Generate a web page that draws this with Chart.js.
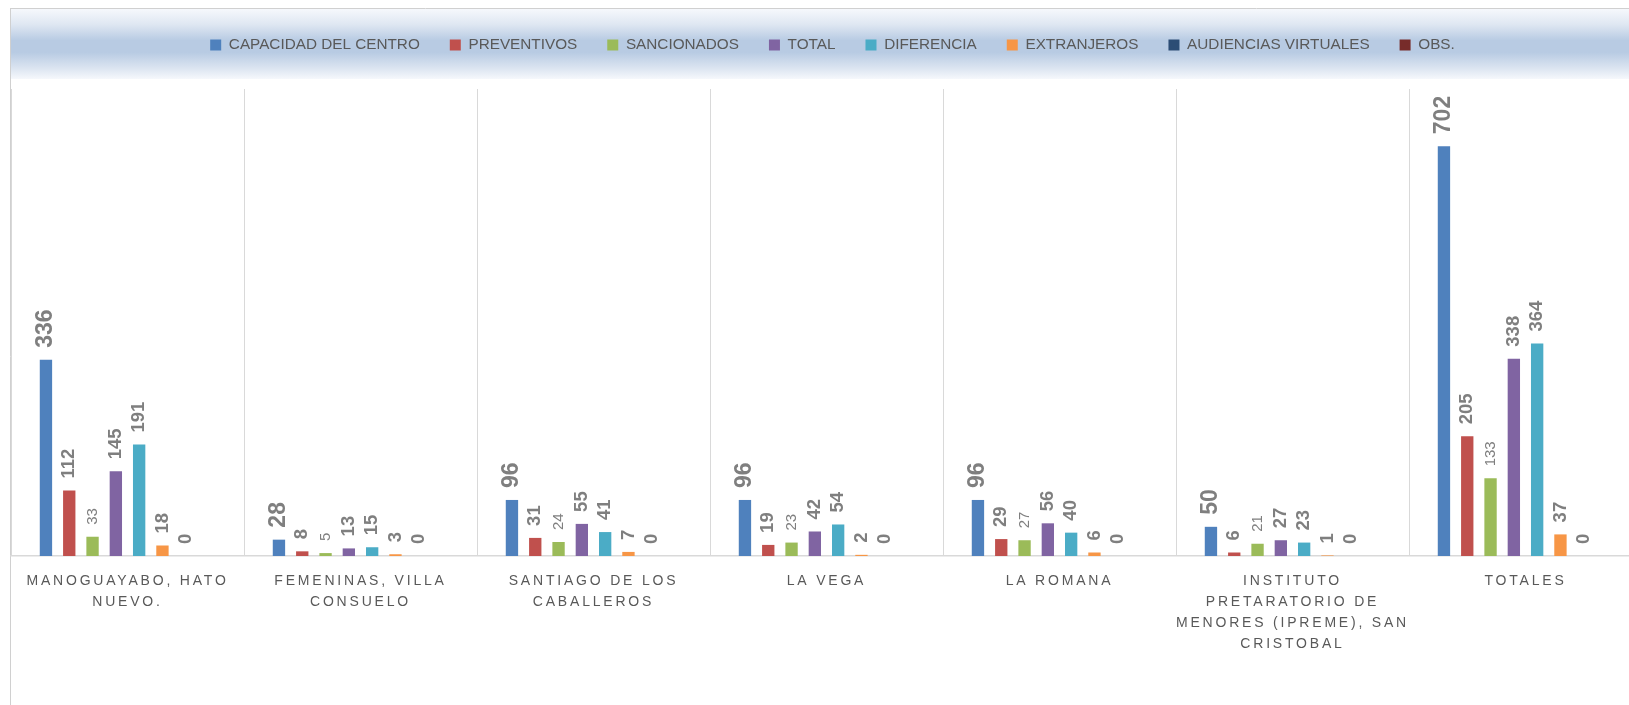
<!DOCTYPE html>
<html lang="es">

<head>
  <meta charset="UTF-8">
  <title>Centros</title>
  <style>
    html, body { margin: 0; padding: 0; overflow: hidden; background: #fff; }
    .chart-box { position: relative; width: 1672px; height: 705px; }
  </style>
</head>

<body>
  <div class="chart-box"><canvas id="myChart"></canvas></div>
  <script src="https://cdn.jsdelivr.net/npm/chart.js"></script>
  <script>
    const centros = [
      ['MANOGUAYABO, HATO', 'NUEVO.'],
      ['FEMENINAS, VILLA', 'CONSUELO'],
      ['SANTIAGO DE LOS', 'CABALLEROS'],
      'LA VEGA',
      'LA ROMANA',
      ['INSTITUTO', 'PRETARATORIO DE', 'MENORES (IPREME), SAN', 'CRISTOBAL'],
      'TOTALES'
    ];
    const capacidad = [336, 28, 96, 96, 96, 50, 702];
    const preventivos = [112, 8, 31, 19, 29, 6, 205];
    const sancionados = [33, 5, 24, 23, 27, 21, 133];
    const total = [145, 13, 55, 42, 56, 27, 338];
    const diferencia = [191, 15, 41, 54, 40, 23, 364];
    const extranjeros = [18, 3, 7, 2, 6, 1, 37];
    const audiencias = [0, 0, 0, 0, 0, 0, 0];
    const obs = [null, null, null, null, null, null, null];

    const FONT = "'Liberation Sans', Arial, sans-serif";
    Chart.defaults.font.family = FONT;

    function serie(label, data, color, labelFont) {
      return { label: label, data: data, backgroundColor: color, borderWidth: 0, labelFont: labelFont };
    }

    // fondo, marco y banda degradada de la leyenda
    const fondo = {
      id: 'fondo',
      beforeDraw(chart) {
        const c = chart.ctx;
        const w = chart.width, h = chart.height;
        c.save();
        c.fillStyle = '#fff';
        c.fillRect(0, 0, w, h);
        const g = c.createLinearGradient(0, 9, 0, 79);
        g.addColorStop(0, '#f6f8fc');
        g.addColorStop(0.22, '#dfe7f2');
        g.addColorStop(0.45, '#b8cbe3');
        g.addColorStop(0.62, '#b8cbe3');
        g.addColorStop(0.85, '#dce5f1');
        g.addColorStop(1, '#f6f8fc');
        c.fillStyle = g;
        c.fillRect(11, 9, w - 11, 70);
        c.strokeStyle = '#d0d0d0';
        c.lineWidth = 1;
        c.beginPath();
        c.moveTo(10, 8.5); c.lineTo(w, 8.5);
        c.moveTo(10.5, 8); c.lineTo(10.5, h);
        c.stroke();
        c.restore();
      },
      afterLayout(chart) {
        const lg = chart.legend;
        const pad = lg.options.labels.padding;
        const size = lg.options.labels.font.size;
        const dy = 45 - (pad + size / 2) - lg.top;
        lg.top += dy; lg.bottom += dy;
        lg.left += 6; lg.right += 6;
        const xs = chart.scales.x;
        if (!xs._spaced) {
          const orig = xs.drawLabels;
          xs.drawLabels = function (area) {
            this.ctx.save();
            this.ctx.letterSpacing = '2.8px';
            orig.call(this, area);
            this.ctx.restore();
          };
          xs._spaced = true;
        }
      }
    };

    // etiquetas de valor giradas sobre cada barra
    const etiquetas = {
      id: 'etiquetas',
      afterDatasetsDraw(chart) {
        const c = chart.ctx;
        chart.data.datasets.forEach((ds, i) => {
          const meta = chart.getDatasetMeta(i);
          meta.data.forEach((bar, j) => {
            const v = ds.data[j];
            if (v === null || v === undefined) return;
            c.save();
            c.translate(bar.x, bar.y - 12);
            c.rotate(-Math.PI / 2);
            c.font = ds.labelFont;
            c.fillStyle = '#7f7f7f';
            c.textAlign = 'left';
            c.textBaseline = 'middle';
            c.fillText(String(v), 0, 0);
            c.restore();
          });
        });
      }
    };

    const ctx = document.getElementById('myChart');
    const bold = 'bold 18.5px ' + FONT;

    const mychart = new Chart(ctx, {
      type: 'bar',
      data: {
        labels: centros,
        datasets: [
          serie('CAPACIDAD DEL CENTRO', capacidad, '#4F81BD', 'bold 23px ' + FONT),
          serie('PREVENTIVOS', preventivos, '#C0504D', bold),
          serie('SANCIONADOS', sancionados, '#9BBB59', '15px ' + FONT),
          serie('TOTAL', total, '#8064A2', bold),
          serie('DIFERENCIA', diferencia, '#4BACC6', bold),
          serie('EXTRANJEROS', extranjeros, '#F79646', bold),
          serie('AUDIENCIAS VIRTUALES', audiencias, '#2C4D75', bold),
          serie('OBS.', obs, '#772C2A', bold)
        ]
      },
      options: {
        responsive: true,
        maintainAspectRatio: false,
        animation: false,
        devicePixelRatio: 1,
        categoryPercentage: 0.8,
        barPercentage: 0.53,
        layout: { padding: { left: 11, right: 30, top: 33.7, bottom: 0 } },
        plugins: {
          legend: {
            position: 'top',
            labels: {
              boxWidth: 11,
              boxHeight: 11,
              padding: 30,
              color: '#595959',
              font: { size: 15.3 }
            }
          },
          tooltip: { enabled: false }
        },
        scales: {
          x: {
            grid: { color: '#d9d9d9', lineWidth: 1, drawTicks: false },
            border: { color: '#d9d9d9', width: 1.5 },
            ticks: {
              color: '#595959',
              padding: 15,
              maxRotation: 0,
              autoSkip: false,
              font: { size: 14, lineHeight: 1.5 }
            },
            afterFit(scale) { scale.height = 149; }
          },
          y: {
            display: false,
            min: 0,
            max: 800
          }
        }
      },
      plugins: [fondo, etiquetas]
    });
  </script>
</body>

</html>
